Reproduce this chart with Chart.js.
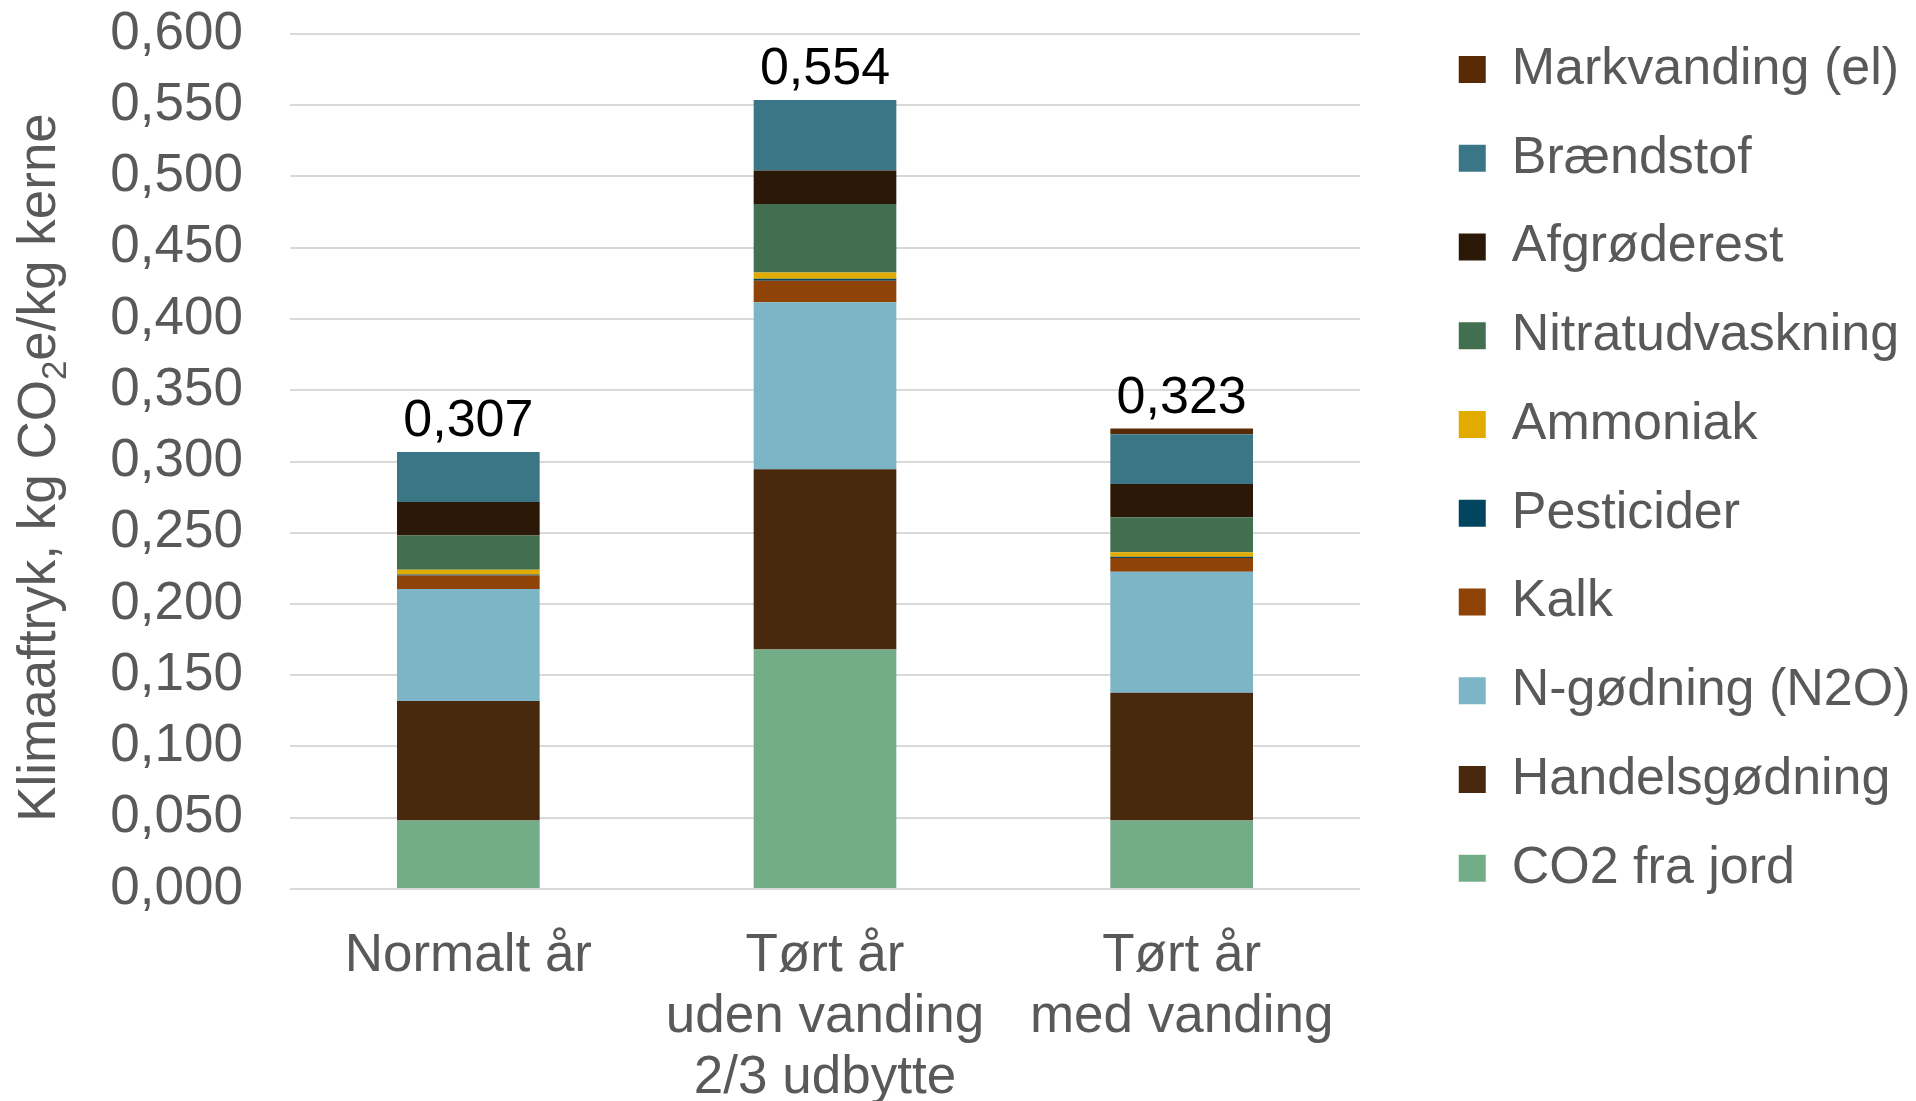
<!DOCTYPE html>
<html>
<head>
<meta charset="utf-8">
<script src="https://cdn.jsdelivr.net/npm/chart.js@4.4.1/dist/chart.umd.min.js"></script>
<style>
html, body { margin: 0; padding: 0; background: #fff; }
#wrap { width: 1916px; height: 1101px; }
</style>
</head>
<body>
<div id="wrap"><canvas id="klimaChart"></canvas></div>
<script>
// data (kg CO2e/kg kerne)
const categories = ["Normalt år", ["Tørt år", "uden vanding", "2/3 udbytte"], ["Tørt år", "med vanding"]];
const co2Jord     = [0.048, 0.168, 0.048];
const handelsg    = [0.084, 0.1265, 0.0897];
const nGodning    = [0.0785, 0.1173, 0.0849];
const kalk        = [0.0095, 0.015, 0.0096];
const pesticider  = [0.0007, 0.0015, 0.001];
const ammoniak    = [0.0033, 0.0044, 0.0032];
const nitrat      = [0.024, 0.048, 0.0244];
const afgrode     = [0.0236, 0.0235, 0.0234];
const braendstof  = [0.035, 0.0494, 0.0349];
const markvanding = [0, 0, 0.004];
const yTicks = [0, 0.05, 0.1, 0.15, 0.2, 0.25, 0.3, 0.35, 0.4, 0.45, 0.5, 0.55, 0.6];

const FONT = "'Liberation Sans', Arial, sans-serif";
const GREY = "#595959";

const series = [
  { label: "CO2 fra jord", data: co2Jord, backgroundColor: "#72ad88" },
  { label: "Handelsgødning", data: handelsg, backgroundColor: "#48290e" },
  { label: "N-gødning (N2O)", data: nGodning, backgroundColor: "#7bb5c6" },
  { label: "Kalk", data: kalk, backgroundColor: "#8f4307" },
  { label: "Pesticider", data: pesticider, backgroundColor: "#02455f" },
  { label: "Ammoniak", data: ammoniak, backgroundColor: "#e1ab00" },
  { label: "Nitratudvaskning", data: nitrat, backgroundColor: "#416f50" },
  { label: "Afgrøderest", data: afgrode, backgroundColor: "#2b1807" },
  { label: "Brændstof", data: braendstof, backgroundColor: "#3b7686" },
  { label: "Markvanding (el)", data: markvanding, backgroundColor: "#582a06" }
];

const fmt = v => v.toFixed(3).replace(".", ",");

// totals above each bar
const totalsPlugin = {
  id: "totals",
  afterDatasetsDraw(chart) {
    const ctx = chart.ctx;
    const xs = chart.scales.x, ys = chart.scales.y;
    ctx.save();
    ctx.font = "52px " + FONT;
    ctx.fillStyle = "#000";
    ctx.textAlign = "center";
    ctx.textBaseline = "alphabetic";
    categories.forEach((c, i) => {
      let sum = 0;
      series.forEach(s => sum += s.data[i]);
      ctx.fillText(fmt(sum), xs.getPixelForValue(i), ys.getPixelForValue(sum) - 16);
    });
    ctx.restore();
  }
};

// y axis title with subscript 2
const yTitlePlugin = {
  id: "ytitle",
  afterDraw(chart) {
    const ctx = chart.ctx;
    const a = chart.chartArea;
    const parts = [["Klimaaftryk, kg CO", 53, 0], ["2", 35, 11], ["e/kg kerne", 53, 0]];
    ctx.save();
    ctx.fillStyle = GREY;
    ctx.textBaseline = "alphabetic";
    ctx.textAlign = "left";
    let total = 0;
    parts.forEach(p => { ctx.font = p[1] + "px " + FONT; total += ctx.measureText(p[0]).width; });
    ctx.translate(55, (a.top + a.bottom) / 2 + 6);
    ctx.rotate(-Math.PI / 2);
    let x = -total / 2;
    parts.forEach(p => {
      ctx.font = p[1] + "px " + FONT;
      ctx.fillText(p[0], x, p[2]);
      x += ctx.measureText(p[0]).width;
    });
    ctx.restore();
  }
};

new Chart(document.getElementById("klimaChart"), {
  type: "bar",
  data: { labels: categories, datasets: series },
  plugins: [totalsPlugin, yTitlePlugin],
  options: {
    responsive: true,
    maintainAspectRatio: false,
    animation: false,
    layout: { padding: 0 },
    datasets: { bar: { categoryPercentage: 1, barPercentage: 0.4, borderWidth: 0 } },
    plugins: {
      tooltip: { enabled: false },
      legend: {
        position: "right",
        align: "start",
        reverse: true,
        maxWidth: 494,
        title: { display: true, text: "", font: { size: 1, lineHeight: 1 }, padding: { top: 3, bottom: 2.75 } },
        labels: {
          color: GREY,
          font: { family: FONT, size: 52 },
          boxWidth: 27,
          boxHeight: 27,
          padding: 36.75
        }
      }
    },
    scales: {
      x: {
        stacked: true,
        afterFit: s => { s.height = 212; },
        grid: { display: false, drawTicks: false },
        border: { display: false },
        ticks: {
          color: GREY,
          font: { family: FONT, size: 53, lineHeight: 1.15 },
          padding: 37,
          maxRotation: 0,
          autoSkip: false
        }
      },
      y: {
        stacked: true,
        min: 0,
        max: 0.6,
        afterFit: s => { s.width = 290; s.paddingTop = 34; s.paddingBottom = 0; },
        afterBuildTicks: s => { s.ticks = yTicks.map(v => ({ value: v })); },
        grid: { color: "#d9d9d9", lineWidth: 2, drawTicks: false },
        border: { display: false },
        ticks: {
          color: GREY,
          font: { family: FONT, size: 53 },
          padding: 47,
          autoSkip: false,
          callback: v => fmt(v)
        }
      },
      gap: {
        position: "right",
        afterFit: s => { s.width = 62; },
        grid: { display: false, drawTicks: false },
        border: { display: false },
        ticks: { display: false }
      }
    }
  }
});
</script>
</body>
</html>
